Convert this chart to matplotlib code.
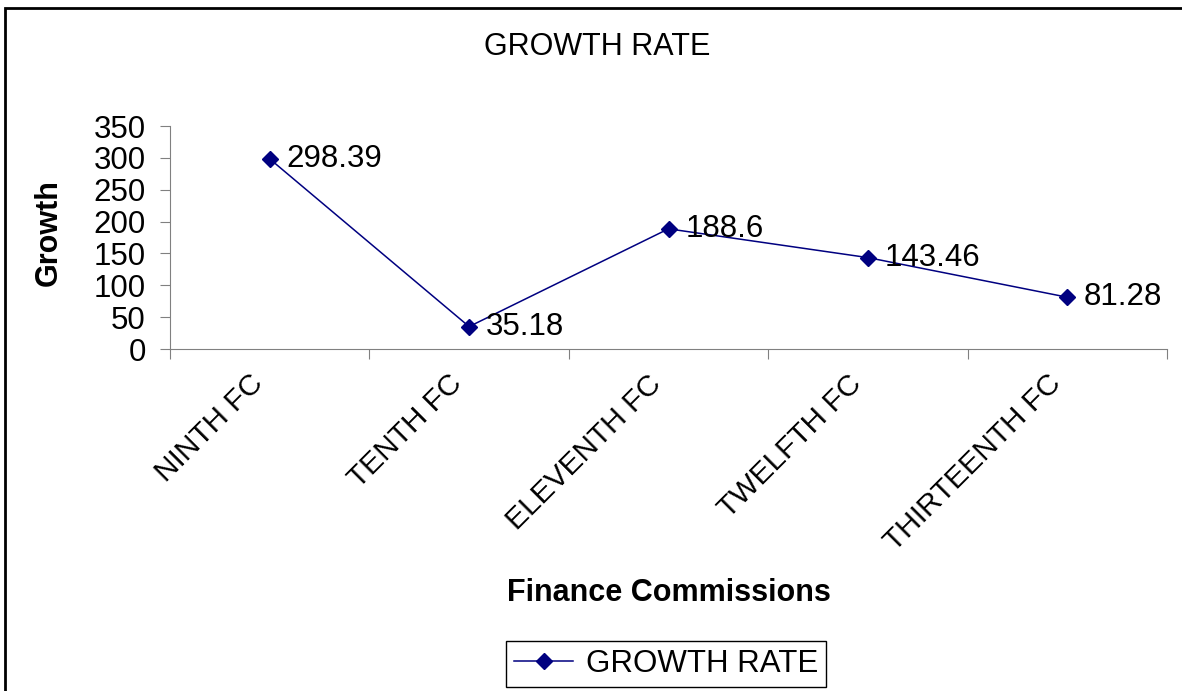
import matplotlib.pyplot as plt
import matplotlib.transforms as mtransforms
from matplotlib.patches import Rectangle

plt.rcParams['font.family'] = ['Liberation Sans', 'DejaVu Sans']

# data
categories = ['NINTH FC', 'TENTH FC', 'ELEVENTH FC', 'TWELFTH FC', 'THIRTEENTH FC']
growth = [298.39, 35.18, 188.6, 143.46, 81.28]
value_labels = ['298.39', '35.18', '188.6', '143.46', '81.28']
y_ticks = [0, 50, 100, 150, 200, 250, 300, 350]

FS = 22.5
W, H = 1182, 691
fig = plt.figure(figsize=(W / 100, H / 100), dpi=100)
ax = fig.add_axes([170 / W, 1 - 349 / H, 997 / W, 223 / H])

pos = list(range(len(categories)))
line, = ax.plot(pos, growth, color='#000080', linewidth=1.1, marker='D',
                markersize=8, label='GROWTH RATE')

for x, y, s in zip(pos, growth, value_labels):
    ax.annotate(s, (x, y), xytext=(12, 0), textcoords='offset points',
                ha='left', va='center', fontsize=FS)

ax.set_xlim(-0.5, len(categories) - 0.5)
ax.set_ylim(0, 350)
ax.set_yticks(y_ticks)
ax.set_yticklabels([str(v) for v in y_ticks], fontsize=FS)

# ticks sit between categories, labels under each category
ax.set_xticks([p - 0.5 for p in pos] + [len(categories) - 0.5])
ax.set_xticklabels([])
ax.set_xticks(pos, minor=True)
ax.set_xticklabels(categories, minor=True, rotation=45, ha='right',
                   rotation_mode='anchor', fontsize=21.5)
ax.tick_params(axis='x', which='minor', length=0, pad=14)
ax.tick_params(axis='both', which='major', length=7.5, color='#808080', direction='out')
ax.tick_params(axis='y', pad=10)

shift = mtransforms.ScaledTranslation(-21 / 100, -1 / 100, fig.dpi_scale_trans)
for lbl in ax.get_xticklabels(minor=True):
    lbl.set_transform(lbl.get_transform() + shift)

for side in ['top', 'right']:
    ax.spines[side].set_visible(False)
for side in ['left', 'bottom']:
    ax.spines[side].set_color('#808080')

ax.set_ylabel('Growth', fontsize=22, fontweight='bold')
ax.yaxis.set_label_coords(-0.107, 0.52)
ax.set_xlabel('Finance Commissions', fontsize=22, fontweight='bold')
ax.xaxis.set_label_coords(0.5, -1.027)

fig.text(597 / W, 1 - 47 / H, 'GROWTH RATE', ha='center', va='center', fontsize=22)

leg = fig.legend(handles=[line], loc='center', bbox_to_anchor=(666 / W, 1 - 664 / H),
                 fontsize=FS, frameon=True, fancybox=False, framealpha=1,
                 edgecolor='black', borderpad=0.25, handlelength=1.9,
                 handletextpad=0.4, borderaxespad=0)
leg.get_frame().set_linewidth(1.0)

# outer chart frame (right and bottom edges lie outside the picture)
fig.patches.append(Rectangle((5 / W, -0.1), 1.2, 1 - 8 / H + 0.1, transform=fig.transFigure,
                             fill=False, edgecolor='black', linewidth=2))

plt.savefig('out.png')
plt.close()
